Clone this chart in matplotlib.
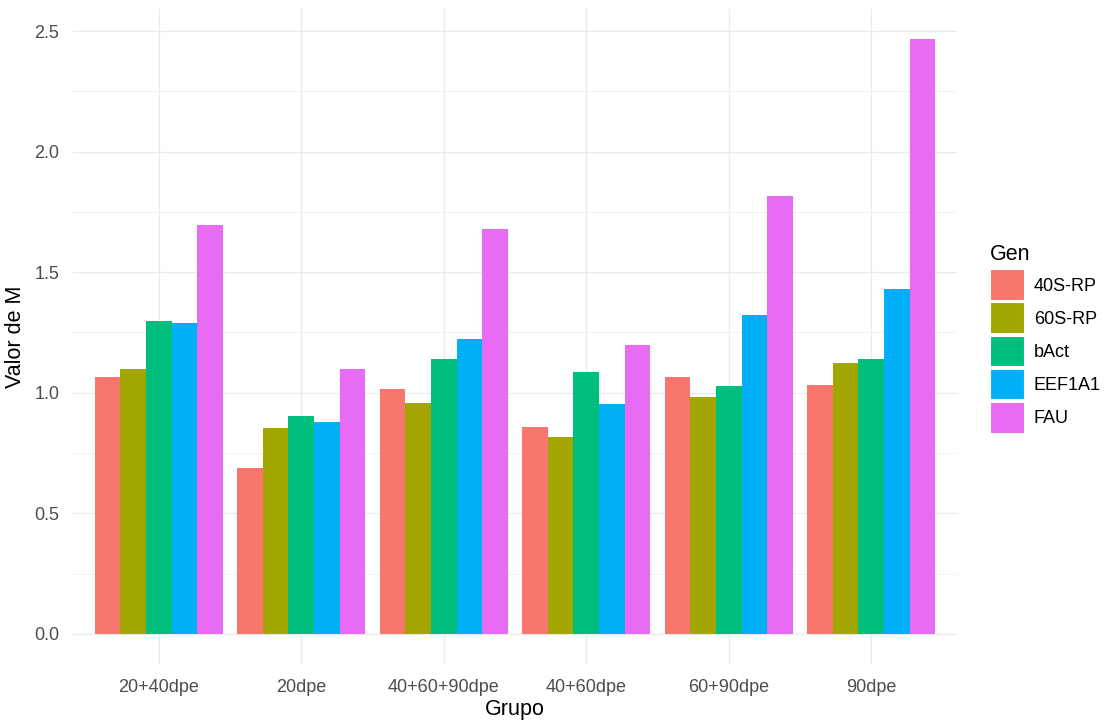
import matplotlib
matplotlib.use("Agg")
import matplotlib.pyplot as plt
import numpy as np
from matplotlib.patches import Patch

plt.rcParams['font.family'] = ['Liberation Sans', 'DejaVu Sans']

groups = ["20+40dpe", "20dpe", "40+60+90dpe", "40+60dpe", "60+90dpe", "90dpe"]
genes = ["40S-RP", "60S-RP", "bAct", "EEF1A1", "FAU"]
colors = ["#F8766D", "#A3A500", "#00BF7D", "#00B0F6", "#E76BF3"]

v_40S = [1.066, 0.689, 1.014, 0.859, 1.064, 1.032]
v_60S = [1.097, 0.852, 0.959, 0.815, 0.982, 1.122]
v_bAct = [1.297, 0.903, 1.141, 1.085, 1.026, 1.140]
v_EEF = [1.290, 0.877, 1.223, 0.952, 1.322, 1.429]
v_FAU = [1.696, 1.097, 1.679, 1.197, 1.817, 2.467]
values = [v_40S, v_60S, v_bAct, v_EEF, v_FAU]

fig = plt.figure(figsize=(11.1, 7.22), dpi=100)
ax = fig.add_axes([0.066, 0.081, 0.796, 0.906])

x = np.arange(1, len(groups) + 1)
bw = 0.9 / len(genes)
for i, (g, vals, c) in enumerate(zip(genes, values, colors)):
    ax.bar(x - 0.45 + bw * (i + 0.5), vals, width=bw, color=c, label=g,
           zorder=3, linewidth=0)

ymax = max(max(v) for v in values)
ax.set_ylim(-0.05 * ymax, ymax * 1.05)
ax.set_xlim(0.4, len(groups) + 0.6)
ax.set_xticks(x)
ax.set_xticklabels(groups)
ax.set_yticks([0, 0.5, 1.0, 1.5, 2.0, 2.5])
ax.set_yticklabels(["0.0", "0.5", "1.0", "1.5", "2.0", "2.5"])
ax.set_yticks(np.arange(0.25, 2.6, 0.5), minor=True)

for s in ax.spines.values():
    s.set_visible(False)
ax.grid(True, which='major', color='#EBEBEB', linewidth=1.0, zorder=0)
ax.grid(True, which='minor', axis='y', color='#F2F2F2', linewidth=0.7, zorder=0)
ax.tick_params(which='both', length=0, labelsize=13, colors='#4D4D4D')
ax.tick_params(axis='y', pad=10)
ax.tick_params(axis='x', pad=11)

ax.set_xlabel("Grupo", fontsize=15.5, color='black', labelpad=2)
ax.set_ylabel("Valor de M", fontsize=15.5, color='black', labelpad=6)

handles = [Patch(facecolor=c, edgecolor='white', linewidth=1.5) for c in colors]
leg = fig.legend(handles, genes, title="Gen", loc='upper left',
                 bbox_to_anchor=(0.885, 0.672), frameon=False,
                 fontsize=13, title_fontsize=15.5,
                 handlelength=1.95, handleheight=2.3, labelspacing=0.1,
                 handletextpad=0.5, borderaxespad=0)
leg._legend_box.align = "left"
leg._legend_box.sep = 3

fig.savefig("out.png", dpi=100, facecolor='white')
